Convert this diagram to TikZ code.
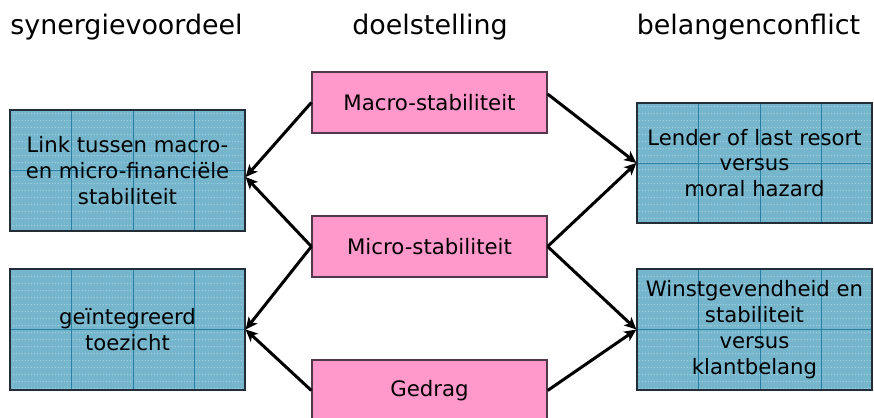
\documentclass[tikz,border=0pt]{standalone}
\usepackage{fontspec}
\setmainfont{DejaVu Sans}
\usetikzlibrary{calc,arrows.meta,patterns}
\definecolor{bluefill}{RGB}{118,182,204}
\definecolor{gridcol}{RGB}{40,128,165}
\definecolor{boxline}{RGB}{35,45,55}
\definecolor{pinkfill}{RGB}{255,153,204}
\definecolor{pinkline}{RGB}{85,55,75}
\pgfdeclarepatternformonly{whitedots}{\pgfpointorigin}{\pgfpoint{3.4pt}{6.8pt}}{\pgfpoint{3.4pt}{6.8pt}}{%
  \pgfpathrectangle{\pgfpoint{1pt}{1pt}}{\pgfpoint{0.9pt}{0.9pt}}\pgfusepath{fill}}
\tikzset{
  gridline/.style={draw=gridcol, line width=0.7pt},
  bluebox/.style={draw=boxline, line width=1.2pt, preaction={fill=bluefill},
    pattern=whitedots, pattern color=white!50!bluefill,
    minimum width=235, minimum height=121, inner sep=0pt, align=center,
    text=black, font=\fontsize{21.2}{25.8}\selectfont,
    path picture={
      \foreach \dx in {61.5,123,184.5}{
        \draw[gridline] ($(path picture bounding box.north west)+(\dx,0)$) -- ($(path picture bounding box.south west)+(\dx,0)$);}
      \draw[gridline] (path picture bounding box.west) -- (path picture bounding box.east);
    }},
  pinkbox/.style={draw=pinkline, line width=1.2pt, fill=pinkfill,
    minimum width=235, minimum height=61, inner sep=0pt, align=center,
    text=black, font=\fontsize{21.3}{25}\selectfont},
  header/.style={inner sep=0pt, text=black, font=\fontsize{26.9}{32}\selectfont},
  arr/.style={line width=3pt, -{Stealth[length=12pt,width=11pt,inset=3pt]}}
}
\begin{document}
\begin{tikzpicture}[x=1pt,y=-1pt]
\useasboundingbox (0,0) rectangle (874,417);
% headers
\node[header] (h1) at (126.5,27) {synergievoordeel};
\node[header] (h2) at (430,27) {doelstelling};
\node[header] (h3) at (748.5,27) {belangenconflict};
% blue boxes
\node[bluebox] (l1) at (127.5,170.5) {Link tussen macro-\\en micro-financiële\\stabiliteit};
\node[bluebox] (l2) at (127.5,329.5) {geïntegreerd\\toezicht};
\node[bluebox, minimum height=120] (r1) at (754.5,163) {Lender of last resort\\versus\\moral hazard};
\node[bluebox] (r2) at (754.5,329.5) {Winstgevendheid en\\stabiliteit\\versus\\klantbelang};
% pink boxes
\node[pinkbox] (macro) at (429.5,102.5) {Macro-stabiliteit};
\node[pinkbox] (micro) at (429.5,246.5) {Micro-stabiliteit};
\node[pinkbox] (gedrag) at (429.5,390.5) {Gedrag};
% connector end points
\coordinate (l1in) at ($(l1.east)+(0,6.5)$);
\coordinate (macroout) at ($(macro.east)+(0,-8.5)$);
% arrows
\draw[arr] (macro.west) -- (l1in);
\draw[arr] (micro.west) -- (l1in);
\draw[arr] (micro.west) -- (l2.east);
\draw[arr] (gedrag.west) -- (l2.east);
\draw[arr] (macroout) -- (r1.west);
\draw[arr] (micro.east) -- (r1.west);
\draw[arr] (micro.east) -- (r2.west);
\draw[arr] (gedrag.east) -- (r2.west);
\end{tikzpicture}
\end{document}
